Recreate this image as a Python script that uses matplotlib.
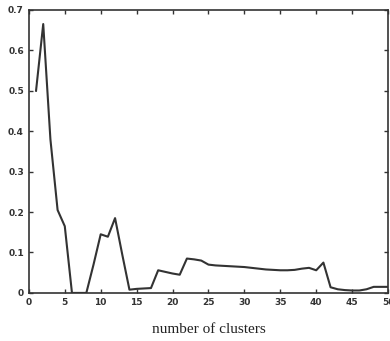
import matplotlib
matplotlib.use("Agg")
import matplotlib.pyplot as plt

# values
clusters = list(range(1, 51))
score = [0.50, 0.665, 0.38, 0.205, 0.165, 0.0, 0.0, 0.0, 0.07, 0.145,
         0.139, 0.185, 0.095, 0.008, 0.010, 0.011, 0.012, 0.056, 0.052, 0.048,
         0.045, 0.085, 0.083, 0.080, 0.070, 0.068, 0.067, 0.066, 0.065, 0.064,
         0.062, 0.060, 0.058, 0.057, 0.056, 0.056, 0.057, 0.060, 0.062, 0.056,
         0.075, 0.014, 0.009, 0.007, 0.006, 0.006, 0.009, 0.015, 0.015, 0.015]

xticks = list(range(0, 51, 5))
yticks = [0, 0.1, 0.2, 0.3, 0.4, 0.5, 0.6, 0.7]
yticklabels = ["0", "0.1", "0.2", "0.3", "0.4", "0.5", "0.6", "0.7"]

fig = plt.figure(figsize=(3.9, 3.41), dpi=100)
ax = fig.add_axes([0.074, 0.141, 0.921, 0.83])
ax.plot(clusters, score, color="#333333", lw=1.5)

ax.set_xlim(0, 50)
ax.set_ylim(0, 0.7)
ax.set_xticks(xticks)
ax.set_yticks(yticks)
ax.set_yticklabels(yticklabels)
ax.tick_params(direction="in", top=True, right=True, length=3, width=1,
               labelsize=6.5, colors="#333333")
for lab in ax.get_xticklabels() + ax.get_yticklabels():
    lab.set_fontweight("bold")
for s in ax.spines.values():
    s.set_linewidth(1.2)
    s.set_color("#333333")

ax.set_xlabel("number of clusters", family="Liberation Serif", fontsize=11,
              color="#222222", labelpad=12)

fig.savefig("out.png", dpi=100)
